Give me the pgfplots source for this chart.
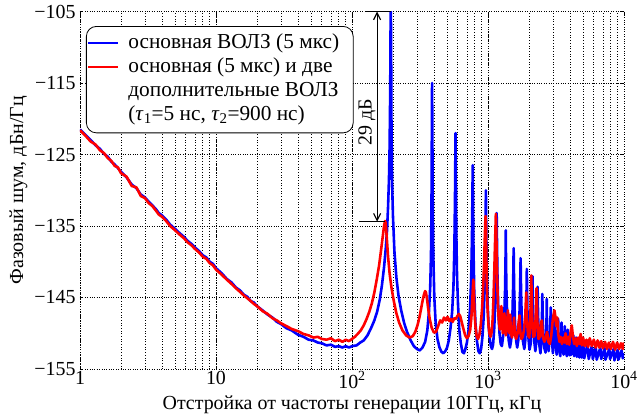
\documentclass[border=0pt]{standalone}
\usepackage{pgfplots}
\pgfplotsset{compat=1.18}
\usepackage{fontspec}
\setmainfont{Liberation Serif}
\usetikzlibrary{arrows.meta}
\definecolor{mblue}{rgb}{0,0,1}
\definecolor{mred}{rgb}{1,0,0}
\begin{document}
\begin{tikzpicture}
\begin{axis}[
  scale only axis, width=544bp, height=357.5bp,
  xmode=log, xmin=1, xmax=10000, ymin=-155, ymax=-105,
  xtick={1,10,100,1000,10000},
  xticklabels={1,10,10\textsuperscript{2},10\textsuperscript{3},10\textsuperscript{4}},
  ytick={-155,-145,-135,-125,-115,-105},
  yticklabels={−155,−145,−135,−125,−115,−105},
  xmajorgrids, xminorgrids, ymajorgrids,
  grid style={dotted, black, line width=0.7pt},
  minor grid style={dotted, black, line width=0.7pt},
  axis line style={draw=none},
  tick style={black, line width=0.6pt},
  major tick length=3bp, minor tick length=0bp,
  tick label style={font=\fontsize{20}{22}\selectfont},
  yticklabel style={xshift=-1bp},
  xticklabel style={yshift=1bp},
  label style={font=\fontsize{20}{22}\selectfont},
  xlabel={Отстройка от частоты генерации 10ГГц, кГц},
  ylabel={Фазовый шум, дБн/Гц},
  xlabel style={yshift=-1bp},
  ylabel style={yshift=0bp},
  every axis plot/.append style={line width=2.6pt, line join=round},
]
\addplot[mblue] coordinates {
(1,-121.5)(1.1,-122.3)(1.2,-123.0)(1.3,-123.7)(1.4,-124.2)(1.5,-124.9)(1.6,-125.3)(1.7,-126.0)(1.8,-126.4)(1.9,-126.9)
(2.0,-127.4)(2.2,-128.2)(2.4,-129.2)(2.6,-129.7)(2.8,-130.6)(3.0,-131.0)(3.2,-131.6)(3.4,-132.1)(3.6,-132.6)(3.8,-133.2)
(4.0,-133.5)(4.3,-134.1)(4.6,-134.8)(5.0,-135.4)(5.4,-136.0)(5.8,-136.5)(6.2,-137.1)(6.6,-137.5)(7.0,-138.0)(7.5,-138.5)
(8.0,-139.1)(8.5,-139.4)(9.0,-140.0)(9.5,-140.3)(10,-140.9)(11,-141.6)(12,-142.4)(13,-142.9)(14,-143.6)(15,-144.0)
(16,-144.6)(17,-144.9)(18,-145.5)(19,-145.7)(20,-146.2)(22,-146.8)(24,-147.4)(26,-147.8)(28,-148.4)(30,-148.7)
(33,-149.3)(36,-149.6)(40,-150.2)(44,-150.5)(48,-150.9)(52,-151.0)(56,-151.3)(60,-151.4)(65,-151.7)(70,-151.6)
(75,-151.9)(80,-151.8)(85,-152.0)(90,-151.8)(95,-152.0)(100,-151.8)(108,-151.7)(115,-151.3)(122,-151.0)(130,-150.3)
(138,-149.3)(146,-148.2)(153,-147.0)(160,-145.3)(166,-143.3)(172,-140.8)(177,-138.2)(181,-135.6)(184,-132.5)(187,-128.5)
(189,-124)(191,-116)(192,-108)(193,-104)(194,-110)(195,-120)(197,-128.5)(200,-133.5)(205,-138.5)(212,-142.2)
(220,-144.8)(230,-146.8)(242,-148.6)(255,-149.9)(270,-151.0)(285,-151.8)(300,-152.2)(315,-152.4)(330,-152.0)(345,-151.2)
(358,-149.6)(368,-147.0)(376,-143.5)(381,-139)(384,-133)(386,-124)(388,-115)(390,-122)(392,-131)(396,-139)
(403,-145)(412,-148.5)(425,-150.8)(440,-152)(455,-152.6)(470,-152.8)(485,-152.5)(500,-152.0)(515,-151.0)(530,-149.3)
(545,-147)(557,-143.5)(566,-138)(572,-131)(577,-122)(581,-129)(585,-136)(592,-142)(602,-146)(615,-149.5)
(630,-151.3)(648,-152.6)(665,-152.8)(680,-152.3)(700,-151.3)(720,-149.5)(738,-146.5)(752,-142.5)(762,-137)(768,-131)
(772,-126.5)(776,-131)(782,-138)(792,-144)(808,-148.5)(828,-151)(850,-152.5)(870,-152.8)(890,-152.2)(910,-150.5)
(928,-148)(942,-144.5)(952,-140)(959,-135)(965,-130)(971,-135)(979,-140.5)(992,-145.5)(1010,-149)(1030,-150.8)
(1050,-151.8)(1070,-152.2)(1090,-151.6)(1110,-149.5)(1128,-146.5)(1142,-142)(1151,-137.5)(1158,-133.2)(1165,-137.5)(1175,-142.5)
(1192,-147)(1215,-150)(1240,-151.5)(1265,-151.8)(1290,-150.5)(1315,-148)(1335,-144)(1345,-140)(1351,-135.6)(1357,-140)
(1368,-144.5)(1390,-148.5)(1420,-151)(1450,-152)(1480,-151)(1510,-148)(1530,-143.5)(1544,-138.1)(1556,-143.5)(1580,-148.5)
(1610,-151)(1640,-152)(1670,-151)(1700,-148)(1722,-144)(1737,-139.5)(1750,-144)(1775,-148.5)(1810,-151.2)(1850,-152.2)
(1880,-151)(1910,-147.5)(1930,-141)(1948,-146.5)(1980,-150.5)(2020,-152.3)(2060,-151.5)(2095,-148)(2123,-142)(2145,-147)
(2185,-151)(2230,-152.5)(2270,-151)(2300,-148)(2316,-143.5)(2335,-147.5)(2380,-151.5)(2430,-152.8)(2480,-150.5)(2509,-144.5)
(2530,-148.5)(2590,-152)(2650,-152.7)(2690,-149.5)(2702,-145.2)(2720,-149.5)(2790,-152.5)(2860,-150)(2895,-146.4)(2930,-150)
(3000,-152.8)(3050,-150.8)(3088,-147.5)(3120,-151)(3200,-153)(3250,-151.5)(3281,-148)(3310,-151.5)(3400,-153.2)(3445,-151.5)
(3474,-148.5)(3500,-151.8)(3600,-153)(3640,-151.5)(3667,-149.0)(3700,-152)(3800,-153.2)(3860,-149.5)(3900,-152.5)(4000,-153.1)
(4053,-150.0)(4100,-153)(4246,-150.3)(4300,-153.2)(4439,-150.6)(4500,-153.3)(4632,-150.8)(4700,-153.4)(4825,-151)(4900,-153.4)
(5018,-151.2)(5100,-153.5)(5400,-151.5)(5500,-153.6)(5800,-151.8)(5900,-153.6)(6200,-151.9)(6300,-153.7)(6700,-152)(6800,-153.6)
(7200,-152.1)(7300,-153.7)(7800,-152.2)(7900,-153.6)(8400,-152.2)(8500,-153.8)(9000,-152.3)(9100,-153.7)(9600,-152.4)(9800,-153.5)
(10000,-152.8)
};
\addplot[mred] coordinates {
(1,-121.6)(1.1,-122.4)(1.2,-123.2)(1.3,-123.6)(1.4,-124.4)(1.5,-124.8)(1.6,-125.5)(1.7,-125.9)(1.8,-126.6)(1.9,-126.8)
(2.0,-127.6)(2.2,-128.1)(2.4,-129.4)(2.6,-129.6)(2.8,-130.8)(3.0,-131.1)(3.2,-131.8)(3.4,-132.2)(3.6,-132.8)(3.8,-133.4)
(4.0,-133.7)(4.3,-134.3)(4.6,-135.0)(5.0,-135.6)(5.4,-136.2)(5.8,-136.7)(6.2,-137.3)(6.6,-137.7)(7.0,-138.2)(7.5,-138.7)
(8.0,-139.3)(8.5,-139.6)(9.0,-140.2)(9.5,-140.5)(10,-141.1)(11,-141.8)(12,-142.5)(13,-143.1)(14,-143.7)(15,-144.2)
(16,-144.7)(17,-145.1)(18,-145.5)(19,-145.9)(20,-146.2)(22,-146.9)(24,-147.3)(26,-147.9)(28,-148.2)(30,-148.6)
(33,-149.0)(36,-149.4)(40,-149.7)(44,-150.1)(48,-150.3)(52,-150.6)(56,-150.5)(60,-150.8)(65,-150.9)(70,-150.7)
(75,-151.1)(80,-150.9)(85,-151.2)(90,-150.9)(95,-151.1)(100,-150.8)(105,-150.5)(110,-150.1)(116,-149.6)(122,-148.9)
(128,-148.0)(134,-147.0)(140,-145.8)(146,-144.3)(152,-142.5)(158,-140.6)(163,-138.6)(168,-136.6)(172,-135.0)(175,-134.3)
(177,-134.6)(180,-136.5)(184,-139.2)(189,-141.6)(195,-143.6)(203,-145.5)(212,-147.2)(222,-148.5)(235,-149.6)(250,-150.3)
(265,-150.6)(280,-150.4)(292,-149.8)(303,-148.9)(313,-147.8)(322,-146.6)(330,-145.5)(338,-144.6)(345,-144.1)(350,-144.3)
(356,-145.2)(363,-146.5)(372,-147.9)(385,-149.2)(400,-149.9)(415,-149.8)(430,-149.0)(445,-148.2)(460,-148.5)(475,-147.8)
(490,-148.2)(505,-147.7)(520,-148.3)(535,-148.0)(550,-148.4)(565,-147.9)(580,-148.0)(595,-147.6)(610,-147.3)(625,-147.6)
(640,-148.4)(660,-149.4)(680,-150.3)(700,-150.7)(720,-150.4)(740,-149.5)(755,-147.8)(766,-145.5)(775,-143.5)(781,-142.5)
(787,-144)(795,-146.8)(808,-149)(825,-150.4)(845,-150.8)(865,-150.2)(885,-148.8)(905,-146.5)(922,-143.5)(935,-140.5)
(946,-137)(955,-134.5)(960,-133.6)(966,-135)(972,-139)(980,-143)(992,-146.5)(1008,-148.8)(1025,-150)(1045,-150.5)
(1065,-149.8)(1082,-148)(1098,-145)(1112,-141.5)(1124,-138)(1134,-135.5)(1142,-133.3)(1150,-135.5)(1160,-139.5)(1172,-143.5)
(1186,-146.5)(1203,-148.5)(1222,-149.5)(1240,-148.0)(1255,-146.2)(1268,-148.5)(1285,-150)(1305,-149.2)(1320,-147.2)(1335,-149.5)
(1355,-150.3)(1380,-149)(1400,-146.8)(1418,-149.2)(1440,-150)(1456,-147.4)(1472,-149.8)(1500,-150.6)(1530,-149.8)(1555,-147.8)
(1575,-150.1)(1610,-150.8)(1650,-150)(1680,-148.5)(1706,-147.5)(1728,-149.8)(1760,-150.8)(1800,-150.5)(1840,-149.5)(1880,-147.5)
(1910,-144.3)(1935,-148)(1970,-150.3)(2010,-150.6)(2045,-148.5)(2080,-141.9)(2110,-147.5)(2150,-150.5)(2195,-150.4)(2240,-148)
(2275,-143.7)(2305,-148.2)(2350,-150.8)(2400,-150.5)(2450,-148.5)(2490,-148.2)(2530,-150.5)(2600,-151.2)(2660,-150.5)(2720,-149.8)
(2780,-151.2)(2850,-151.5)(2920,-150.3)(2980,-148.5)(3030,-147.5)(3080,-146.8)(3120,-147.5)(3170,-149)(3230,-147.8)(3280,-150)
(3350,-151.2)(3420,-150.5)(3500,-151.5)(3580,-150.6)(3650,-151.3)(3720,-150)(3800,-151.5)(3880,-150.5)(3960,-151.6)(4050,-149.8)
(4130,-148.9)(4200,-150.2)(4300,-151.5)(4400,-150.7)(4500,-151.8)(4600,-150.6)(4700,-151.5)(4800,-150.1)(4900,-151.7)(5000,-150.6)
(5150,-151.8)(5300,-150.9)(5450,-151.9)(5600,-150.7)(5800,-151.8)(6000,-150.9)(6200,-152)(6400,-151)(6600,-152)(6800,-151.1)
(7000,-152.1)(7250,-151.2)(7500,-152.2)(7750,-151.3)(8000,-152.2)(8300,-151.2)(8600,-152.3)(8900,-151.3)(9200,-152.2)(9500,-151.4)
(9800,-152.2)(10000,-151.3)
};
% annotation: 29 dB arrow
\draw[line width=1.2pt] (axis cs:126,-105) -- (axis cs:193,-105);
\draw[line width=1.2pt] (axis cs:112,-134.4) -- (axis cs:176,-134.4);
\draw[line width=1.2pt, {Straight Barb[length=7bp,width=7bp]}-{Straight Barb[length=7bp,width=7bp]}] (axis cs:153,-134.4) -- (axis cs:153,-105);
\node[rotate=90, anchor=south, inner sep=1.5bp, font=\fontsize{20}{22}\selectfont] at (axis cs:153,-120.5) {29 дБ};
% legend
\node[draw, fill=white, rounded corners=10bp, line width=0.8pt, anchor=north west, inner xsep=0bp, inner ysep=5bp,
      font=\fontsize{21.4}{24.2}\selectfont] at (rel axis cs:0.011,0.9594) {%
\begin{tabular}{@{\hspace{2bp}}l@{\hspace{10bp}}l@{\hspace{14bp}}}
\textcolor{mblue}{\rule[0.42ex]{30bp}{2.4bp}} & основная ВОЛЗ (5 мкс)\\
\smash{\raisebox{-0.48\baselineskip}{\textcolor{mred}{\rule[0.42ex]{30bp}{2.4bp}}}} & основная (5 мкс) и две\\
 & дополнительные ВОЛЗ\\
 & (\textit{τ}\textsubscript{1}=5 нс, \textit{τ}\textsubscript{2}=900 нс)
\end{tabular}};
\end{axis}
\pgfresetboundingbox
\path[use as bounding box] (-80bp,-47bp) rectangle (563bp,369bp);
\end{tikzpicture}
\end{document}
